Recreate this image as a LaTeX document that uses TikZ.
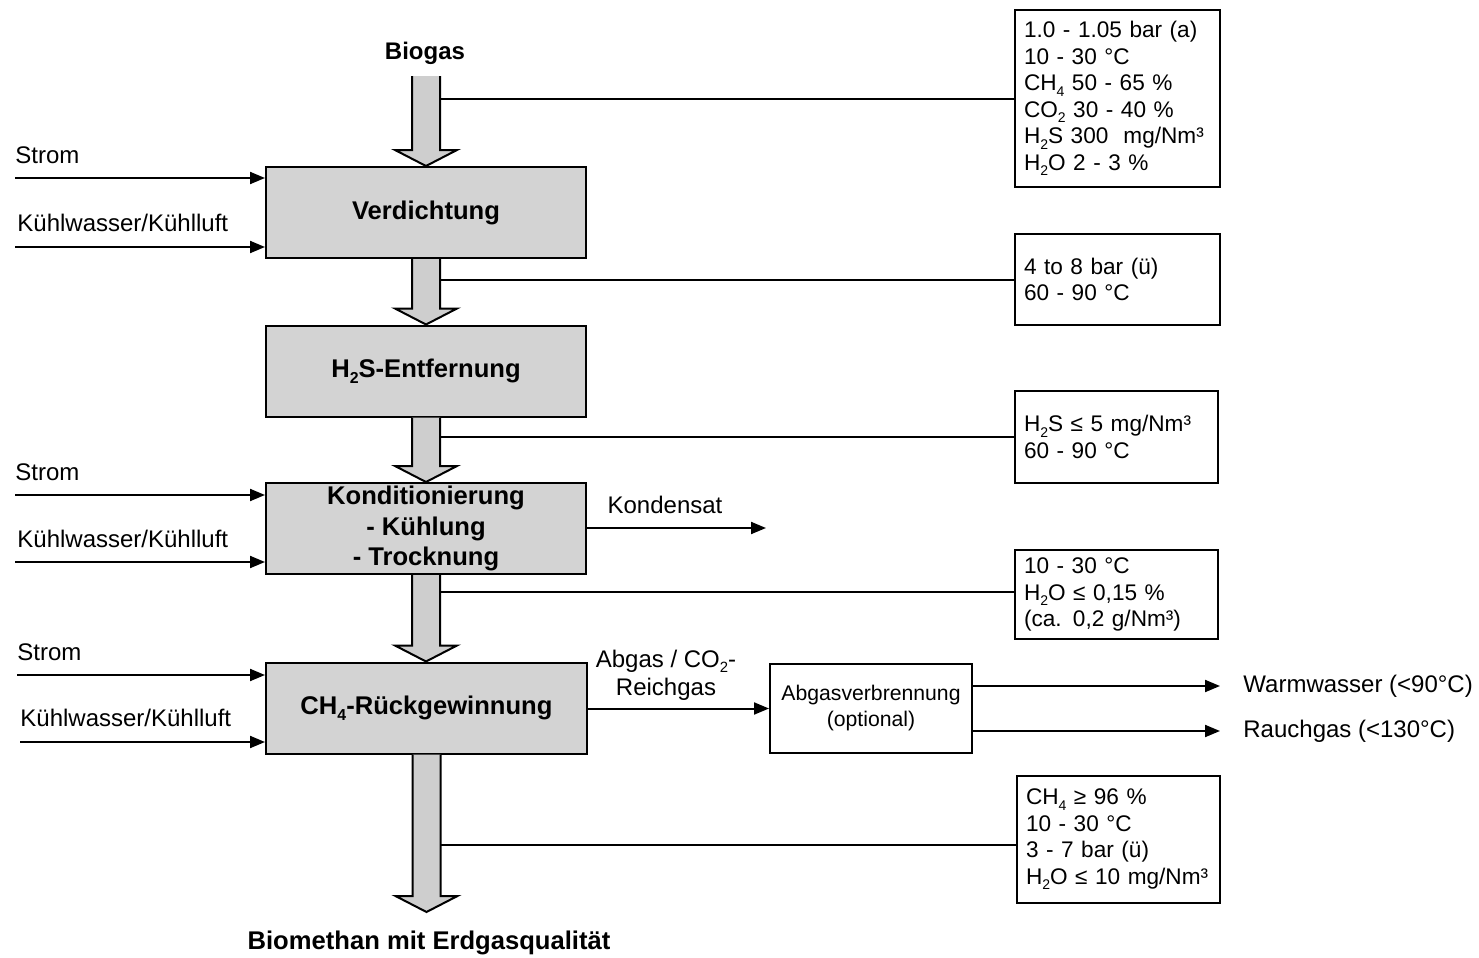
\documentclass[tikz,border=0pt]{standalone}
\usepackage{fontspec}
\setmainfont{Liberation Sans}
\usetikzlibrary{calc,arrows.meta}
\definecolor{boxgray}{RGB}{211,211,211}
\definecolor{arrgray}{RGB}{206,206,206}
\newcommand{\lowsub}[1]{\raisebox{-0.45ex}{\scalebox{0.62}{#1}}}
\newcommand{\fatarrow}[2]{%
  \path[fill=arrgray] let \p1=(#1), \p2=(#2) in
    (\x1-7pt,\y1) -- (\x1+7pt,\y1) -- (\x1+7pt,\y2+8pt) -- (\x1+15.5pt,\y2+8pt)
    -- (\x1,\y2) -- (\x1-15.5pt,\y2+8pt) -- (\x1-7pt,\y2+8pt) -- cycle;
  \draw[line width=1pt,line join=miter] let \p1=(#1), \p2=(#2) in
    (\x1-7pt,\y1) -- (\x1-7pt,\y2+8pt) -- (\x1-15.5pt,\y2+8pt) -- (\x1,\y2)
    -- (\x1+15.5pt,\y2+8pt) -- (\x1+7pt,\y2+8pt) -- (\x1+7pt,\y1);
}
\begin{document}
\begin{tikzpicture}[x=0.5pt,y=-0.5pt,
  proc/.style={draw,fill=boxgray,line width=1pt,minimum width=160pt,minimum height=45.5pt,
    inner sep=0pt,align=center,font=\bfseries\fontsize{12.8}{15.25}\selectfont},
  info/.style={draw,line width=1pt,align=left,inner xsep=4.5pt,inner ysep=0pt,
    font=\fontsize{11.3}{13.25}\selectfont},
  lbl/.style={font=\fontsize{12}{14}\selectfont,inner sep=0pt},
  flow/.style={line width=1pt,-{Triangle[length=7.5pt,width=6pt]}},
  conn/.style={line width=1pt}]
\useasboundingbox (0,0) rectangle (1479,958);

% title labels
\node[font=\bfseries\fontsize{12}{14}\selectfont,inner sep=0pt] (biogas) at (425,53) {Biogas};
\node[font=\bfseries\fontsize{12.8}{15}\selectfont,inner sep=0pt] (biomethan) at (429,943) {Biomethan mit Erdgasqualität};
\coordinate (bstart) at (426,76);
\coordinate (bend) at (426,912);
\coordinate (sr) at (440,0);

% process boxes
\node[proc] (verd) at (426,212.5) {Verdichtung};
\node[proc] (h2s) at (426,371) {H\lowsub{2}S-Entfernung};
\node[proc] (kond) at (426,528.5) {Konditionierung\\- Kühlung\\- Trocknung};
\node[proc,minimum width=160.5pt] (ch4) at (426.5,708) {CH\lowsub{4}-Rückgewinnung};

% fat arrows
\fatarrow{bstart}{verd.north}
\fatarrow{verd.south}{h2s.north}
\fatarrow{h2s.south}{kond.north}
\fatarrow{kond.south}{ch4.north}
\fatarrow{ch4.south}{bend}

% info boxes
\node[info,text width=93.5pt,minimum height=88.5pt] (ia) at (1117.5,98.5)
  {1.0 - 1.05 bar (a)\\10 - 30 °C\\CH\lowsub{4} 50 - 65 \%\\CO\lowsub{2} 30 - 40 \%\\H\lowsub{2}S 300~ mg/Nm³\\H\lowsub{2}O 2 - 3 \%};
\node[info,text width=93.5pt,minimum height=45.5pt] (ib) at (1117.5,279.5)
  {4 to 8 bar (ü)\\60 - 90 °C};
\node[info,text width=92.5pt,minimum height=46pt] (ic) at (1116.5,437)
  {H\lowsub{2}S ≤ 5 mg/Nm³\\60 - 90 °C};
\node[info,text width=92.5pt,minimum height=44.5pt] (id) at (1116.5,594.5)
  {10 - 30 °C\\H\lowsub{2}O ≤ 0,15 \%\\(ca. 0,2 g/Nm³)};
\node[info,text width=92.5pt,minimum height=63.5pt] (ie) at (1118.5,839.5)
  {CH\lowsub{4} ≥ 96 \%\\10 - 30 °C\\3 - 7 bar (ü)\\H\lowsub{2}O ≤ 10 mg/Nm³};

% info connectors
\draw[conn] (ia.west) -- (ia.west -| sr);
\draw[conn] (ib.west) -- (ib.west -| sr);
\draw[conn] (ic.west) -- (ic.west -| sr);
\draw[conn] ([yshift=1.25pt]id.west) -- ([yshift=1.25pt]id.west -| sr);
\draw[conn] ([yshift=-2.75pt]ie.west) -- ([yshift=-2.75pt]ie.west -| sr);

% left inputs
\node[lbl,anchor=west] (st1) at (15,155) {Strom};
\node[lbl,anchor=west] (kw1) at (17,223) {Kühlwasser/Kühlluft};
\node[lbl,anchor=west] (st2) at (15,472) {Strom};
\node[lbl,anchor=west] (kw2) at (17,539) {Kühlwasser/Kühlluft};
\node[lbl,anchor=west] (st3) at (17,652) {Strom};
\node[lbl,anchor=west] (kw3) at (20,718) {Kühlwasser/Kühlluft};
\coordinate (a1) at (15,178);
\coordinate (a2) at (15,247);
\coordinate (a3) at (15,495);
\coordinate (a4) at (15,562);
\coordinate (a5) at (17,675);
\coordinate (a6) at (20,742);
\draw[flow] (a1) -- (a1 -| verd.west);
\draw[flow] (a2) -- (a2 -| verd.west);
\draw[flow] (a3) -- (a3 -| kond.west);
\draw[flow] (a4) -- (a4 -| kond.west);
\draw[flow] (a5) -- (a5 -| ch4.west);
\draw[flow] (a6) -- (a6 -| ch4.west);

% Kondensat
\coordinate (kend) at (766,528);
\draw[flow] (kend -| kond.east) -- (kend);
\node[lbl] (kondlbl) at (665,505) {Kondensat};

% Abgas
\node[draw,line width=1pt,minimum width=101pt,minimum height=44.5pt,inner sep=0pt,align=center,
  font=\fontsize{10.6}{13}\selectfont] (abg) at (871,708.5) {Abgasverbrennung\\(optional)};
\draw[flow] (ch4.east |- abg.west) -- (abg.west);
\node[lbl,align=center,font=\fontsize{12}{14}\selectfont] (abglbl) at (666,675) {Abgas / CO\lowsub{2}-\\Reichgas};

% outputs
\coordinate (wend) at (1220,686);
\coordinate (rend) at (1220,731);
\draw[flow] (wend -| abg.east) -- (wend);
\draw[flow] (rend -| abg.east) -- (rend);
\node[lbl,anchor=west] (ww) at (1243,686) {Warmwasser (<90°C)};
\node[lbl,anchor=west] (rg) at (1243,731) {Rauchgas (<130°C)};
\end{tikzpicture}
\end{document}
